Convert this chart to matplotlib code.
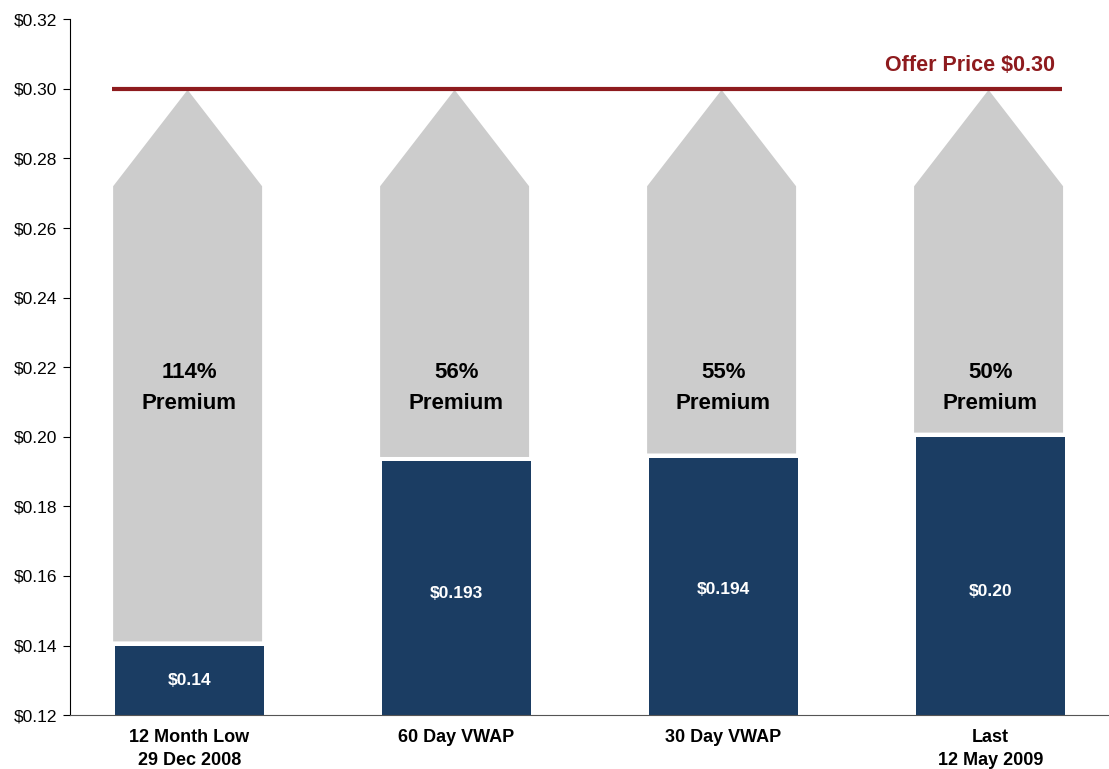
import matplotlib.pyplot as plt
from matplotlib.patches import Polygon
import numpy as np

plt.rcParams['font.family'] = ['Liberation Sans', 'DejaVu Sans']

categories = ['12 Month Low\n29 Dec 2008', '60 Day VWAP', '30 Day VWAP', 'Last\n12 May 2009']
prices = [0.14, 0.193, 0.194, 0.20]
price_labels = ['$0.14', '$0.193', '$0.194', '$0.20']
premiums = ['114%\nPremium', '56%\nPremium', '55%\nPremium', '50%\nPremium']
offer_price = 0.30

navy = '#1B3D63'
grey = '#CCCCCC'
red = '#8E1B1E'

fig, ax = plt.subplots(figsize=(11.09, 7.69), dpi=100)
fig.subplots_adjust(left=0.063, right=1.0, top=0.975, bottom=0.07)

x = np.arange(len(categories))
width = 0.558
ax.bar(x, [p - 0.12 for p in prices], width, bottom=0.12, color=navy, zorder=2)

# grey arrows from just above the bar up to the offer price
shoulder = 0.272
gap = 0.0012
for xi, p in zip(x, prices):
    l, r = xi - width / 2 - 0.007, xi + width / 2 - 0.007
    pts = [(l, p + gap), (r, p + gap), (r, shoulder), (xi - 0.007, offer_price - 0.0003), (l, shoulder)]
    ax.add_patch(Polygon(pts, closed=True, color=grey, lw=0, zorder=1))

ax.plot([x[0] - width / 2 - 0.01, x[-1] + width / 2 - 0.01], [offer_price, offer_price],
        color=red, lw=3, solid_capstyle='butt', zorder=3)
ax.text(x[-1] + width / 2 - 0.038, offer_price + 0.0066, 'Offer Price $0.30',
        color=red, fontsize=15.5, fontweight='bold', ha='right', va='center')

label_y = [0.13, 0.155, 0.156, 0.1555]
for xi, ly, lab in zip(x, label_y, price_labels):
    ax.text(xi, ly, lab, color='white', fontsize=12.5, fontweight='bold', ha='center', va='center')

for xi, t in zip(x, premiums):
    ax.text(xi, 0.214, t, color='black', fontsize=16, fontweight='bold',
            ha='center', va='center', linespacing=1.6)

ax.set_xlim(-0.448, 3.444)
ax.set_ylim(0.12, 0.32)
ax.set_yticks(np.arange(0.12, 0.3201, 0.02))
ax.set_yticklabels([f'${v:.2f}' for v in np.arange(0.12, 0.3201, 0.02)], fontsize=12.5)
ax.set_xticks(x)
ax.set_xticklabels(categories, fontsize=13, fontweight='bold', linespacing=1.45)
ax.tick_params(axis='x', length=0, pad=10)
ax.tick_params(axis='y', length=5, direction='out', pad=4)
for s in ['top', 'right']:
    ax.spines[s].set_visible(False)
ax.spines['bottom'].set_color('#555555')
ax.spines['left'].set_color('black')

fig.savefig('out.png', dpi=100)
